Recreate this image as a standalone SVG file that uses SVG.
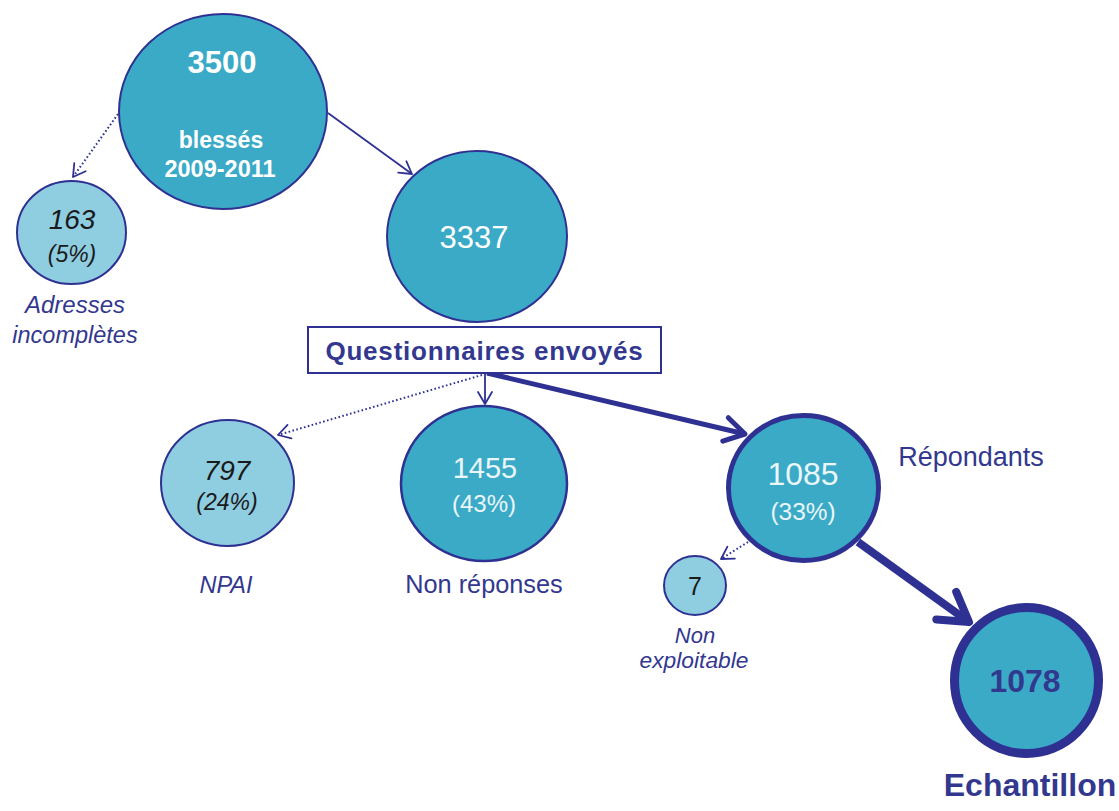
<svg xmlns="http://www.w3.org/2000/svg" width="1119" height="811" viewBox="0 0 1119 811">
<style>
text{font-family:"Liberation Sans",Arial,sans-serif;text-anchor:middle}
.main{fill:#3aaac7;stroke:#2e3192;stroke-width:2}
.light{fill:#8fcde1;stroke:#2e3192;stroke-width:2}
.w{fill:#ffffff}
.wl{fill:#eaf6fa}
.k{fill:#1a1a1a;font-style:italic}
.lab{fill:#33388f}
.it{font-style:italic}
.b{font-weight:bold}
.ln{fill:none;stroke:#2e3192}
.dot{stroke-width:2;stroke-dasharray:1.6 2.4}
</style>
<defs>
<marker id="a1" markerUnits="userSpaceOnUse" viewBox="-14 -10 16 20" markerWidth="16" markerHeight="20" refX="0" refY="0" orient="auto" overflow="visible">
<path d="M-12,-7 L0,0 L-12,7" fill="none" stroke="#2e3192" stroke-width="1.8" stroke-linejoin="round" stroke-linecap="round"/>
</marker>
<marker id="a2" markerUnits="userSpaceOnUse" viewBox="-30 -20 34 40" markerWidth="34" markerHeight="40" refX="0" refY="0" orient="auto" overflow="visible">
<path d="M-20,-12 L0,0 L-20,12" fill="none" stroke="#2e3192" stroke-width="5" stroke-linejoin="round" stroke-linecap="round"/>
</marker>
<marker id="a3" markerUnits="userSpaceOnUse" viewBox="-40 -30 46 60" markerWidth="46" markerHeight="60" refX="0" refY="0" orient="auto" overflow="visible">
<path d="M-28,-17 L0,0 L-28,17" fill="none" stroke="#2e3192" stroke-width="8" stroke-linejoin="round" stroke-linecap="round"/>
</marker>
</defs>
<g id="connectors">
<line class="ln dot" x1="118" y1="114" x2="73" y2="177" marker-end="url(#a1)"/>
<line class="ln" style="stroke-width:1.8" x1="328" y1="113" x2="412" y2="174" marker-end="url(#a1)"/>
<line class="ln dot" x1="482" y1="375" x2="278" y2="435" marker-end="url(#a1)"/>
<line class="ln" style="stroke-width:1.8" x1="485" y1="373" x2="485" y2="404" marker-end="url(#a1)"/>
<line class="ln" style="stroke-width:5" x1="487" y1="373" x2="745" y2="434" marker-end="url(#a2)"/>
<line class="ln dot" x1="748" y1="542" x2="721" y2="559" marker-end="url(#a1)"/>
<line class="ln" style="stroke-width:8" x1="858" y1="542" x2="969" y2="622" marker-end="url(#a3)"/>
</g>
<g id="n3500">
<ellipse class="main" cx="223" cy="111.5" rx="104" ry="97.5"/>
<text class="w b" x="222" y="73" font-size="31">3500</text>
<text class="w b" x="221" y="148" font-size="23">blessés</text>
<text class="w b" x="220" y="177" font-size="23.5">2009-2011</text>
</g>
<g id="n163">
<ellipse class="light" cx="71.5" cy="232.5" rx="54.5" ry="51.5"/>
<text class="k" x="72" y="229" font-size="28">163</text>
<text class="k" x="72" y="262" font-size="23">(5%)</text>
<text class="lab it" x="75" y="313" font-size="24">Adresses</text>
<text class="lab it" x="75" y="343" font-size="23.5">incomplètes</text>
</g>
<g id="n3337">
<ellipse class="main" cx="477" cy="236.5" rx="90" ry="85.5"/>
<text class="w" x="474" y="248" font-size="31">3337</text>
</g>
<g id="box">
<rect x="308" y="327" width="353" height="46" fill="#ffffff" stroke="#2e3192" stroke-width="2"/>
<text class="lab b" x="484.5" y="360" font-size="26" letter-spacing="0.8">Questionnaires envoyés</text>
</g>
<g id="n797">
<ellipse class="light" cx="227.5" cy="483" rx="66.5" ry="63"/>
<text class="k" x="227" y="480" font-size="28">797</text>
<text class="k" x="227" y="510" font-size="23">(24%)</text>
<text class="lab it" x="226" y="593" font-size="23.5">NPAI</text>
</g>
<g id="n1455">
<ellipse class="main" cx="484" cy="483.5" rx="83" ry="77.5" style="stroke-width:2.5"/>
<text class="wl" x="485" y="478" font-size="29">1455</text>
<text class="wl" x="484" y="512" font-size="24">(43%)</text>
<text class="lab" x="484" y="593" font-size="25.3">Non réponses</text>
</g>
<g id="n1085">
<ellipse class="main" cx="803.5" cy="488" rx="75" ry="72.5" style="stroke-width:5"/>
<text class="wl" x="803" y="485" font-size="32">1085</text>
<text class="wl" x="803" y="520" font-size="24.4">(33%)</text>
<text class="lab" x="971" y="466" font-size="27">Répondants</text>
</g>
<g id="n7">
<ellipse class="light" cx="695" cy="585.5" rx="31" ry="29.5"/>
<text x="695" y="595" font-size="25" fill="#1a1a1a">7</text>
<text class="lab it" x="695" y="643" font-size="22">Non</text>
<text class="lab it" x="694" y="668" font-size="22.8">exploitable</text>
</g>
<g id="n1078">
<ellipse class="main" cx="1026.5" cy="680.5" rx="72" ry="73" style="stroke-width:9"/>
<text class="lab b" x="1025" y="692" font-size="32">1078</text>
<text class="lab b" x="1030" y="796" font-size="32">Echantillon</text>
</g>
</svg>
